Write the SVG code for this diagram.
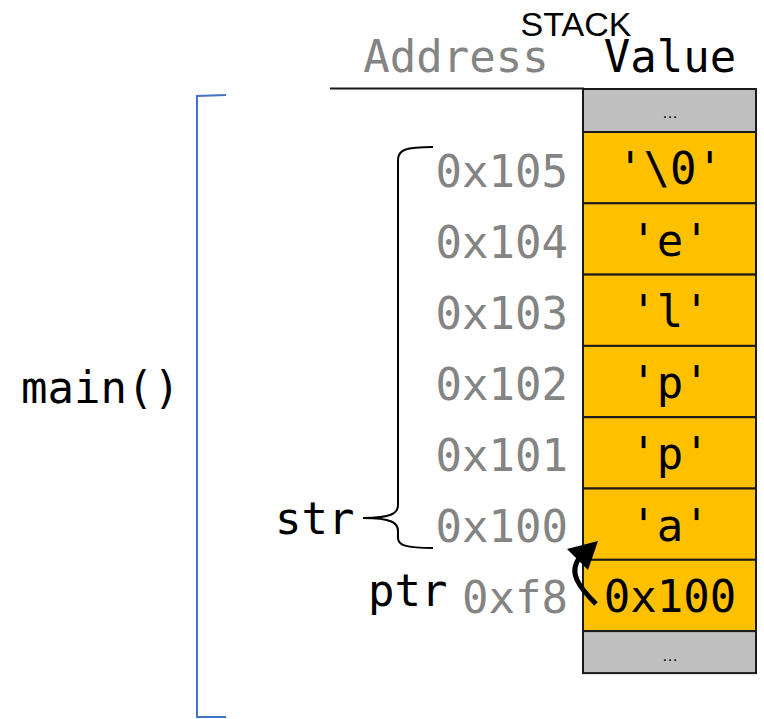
<svg xmlns="http://www.w3.org/2000/svg" width="764" height="719" viewBox="0 0 764 719">
<style>
.mono{font-family:"DejaVu Sans Mono","Liberation Mono",monospace;font-size:44px}
.addr{fill:#848484;text-anchor:end}
.val{fill:#000;text-anchor:middle}
.cell{stroke:#1a1a1a;stroke-width:2}
.y{fill:#FFC000}
.g{fill:#BFBFBF}
.dots{font-family:"Liberation Sans",sans-serif;font-size:16px;text-anchor:middle;fill:#000}
</style>
<rect width="764" height="719" fill="#fff"/>
<text x="576" y="36" font-family="Liberation Sans,Arial,sans-serif" font-size="34" text-anchor="middle">STACK</text>
<text class="mono" x="456" y="72" fill="#848484" text-anchor="middle">Address</text>
<text class="mono" x="670" y="72" text-anchor="middle">Value</text>
<line x1="330" y1="88.5" x2="584" y2="88.5" stroke="#1a1a1a" stroke-width="2"/>
<g id="top"><rect class="cell g" x="583" y="89" width="173" height="43"/><text class="dots" x="670" y="118">…</text></g>
<g id="c105"><rect class="cell y" x="583" y="132" width="173" height="71.3"/><text class="mono val" x="670" y="184">'\0'</text><text class="mono addr" x="568" y="187">0x105</text></g>
<g id="c104"><rect class="cell y" x="583" y="203.3" width="173" height="71.3"/><text class="mono val" x="670" y="256">'e'</text><text class="mono addr" x="568" y="258">0x104</text></g>
<g id="c103"><rect class="cell y" x="583" y="274.6" width="173" height="71.3"/><text class="mono val" x="670" y="327">'l'</text><text class="mono addr" x="568" y="329">0x103</text></g>
<g id="c102"><rect class="cell y" x="583" y="345.9" width="173" height="71.3"/><text class="mono val" x="670" y="398">'p'</text><text class="mono addr" x="568" y="400">0x102</text></g>
<g id="c101"><rect class="cell y" x="583" y="417.2" width="173" height="71.3"/><text class="mono val" x="670" y="469">'p'</text><text class="mono addr" x="568" y="471">0x101</text></g>
<g id="c100"><rect class="cell y" x="583" y="488.5" width="173" height="71.3"/><text class="mono val" x="670" y="541">'a'</text><text class="mono addr" x="568" y="542">0x100</text></g>
<g id="cf8"><rect class="cell y" x="583" y="559.8" width="173" height="71.3"/><text class="mono val" x="670" y="612">0x100</text><text class="mono addr" x="568" y="613">0xf8</text></g>
<g id="bottom"><rect class="cell g" x="583" y="631.1" width="173" height="42"/><text class="dots" x="670" y="661">…</text></g>
<g id="main"><path d="M226,95 L197,96 L197,717 L226,717" fill="none" stroke="#4472C4" stroke-width="2"/><text class="mono" x="21" y="403">main()</text></g>
<g id="str"><path d="M433,147 C405,147 398,150 398,160 L398,505 C398,513 392,518 363,518 C392,518 398,523 398,531 L398,538 C398,545 405,548 433,548" fill="none" stroke="#000" stroke-width="2"/><text class="mono" x="275" y="534">str</text></g>
<g id="ptr"><text class="mono" x="368" y="606">ptr</text></g>
<g id="connectors"><path d="M596,604 C578,586 568,572 580,557" fill="none" stroke="#000" stroke-width="5"/><polygon points="598,541 567,549 588,570" fill="#000"/></g>
</svg>
